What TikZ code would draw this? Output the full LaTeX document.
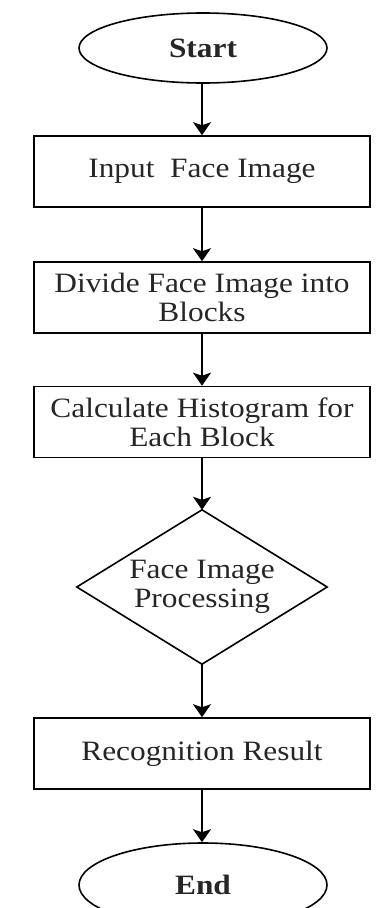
\documentclass[tikz,border=0pt]{standalone}
\usepackage{fontspec}
\setmainfont{Liberation Serif}[FakeStretch=1.12]
\usetikzlibrary{shapes.geometric,arrows.meta}
\begin{document}
\begin{tikzpicture}[x=1pt,y=-1pt,
  every node/.style={font=\fontsize{28}{29}\selectfont, text=black!85, align=center, inner sep=0pt},
  term/.style={ellipse, draw, line width=1.6pt, minimum width=248pt, minimum height=70pt},
  procbox/.style={rectangle, draw, line width=1.6pt, minimum width=336pt, minimum height=71pt},
  decbox/.style={rectangle, minimum width=250pt, minimum height=154pt},
  flow/.style={line width=1.6pt, -{Stealth[width=18pt,length=13pt,inset=3pt]}}
]
\useasboundingbox (0,0) rectangle (378,908);
\clip (0,0) rectangle (378,908);
\fill[white] (0,0) rectangle (378,908);
\node[term] (start) at (203,48) {\bfseries Start};
\node[procbox] (input) at (202,171.5) {Input\ \ Face Image};
\node[procbox] (divide) at (202,297.5) {Divide Face Image into\\Blocks};
\node[procbox] (calc) at (202,422) {Calculate Histogram for\\Each Block};
\node[decbox] (dec) at (202,587) {Face Image\\Processing};
\draw[line width=1.6pt] (dec.north) -- (dec.east) -- (dec.south) -- (dec.west) -- cycle;
\node[procbox] (result) at (202,753.5) {Recognition Result};
\node[term, minimum height=84pt] (end) at (203,885) {\bfseries End};
\draw[flow] (start.south -| input.north) -- (input.north);
\draw[flow] (input.south) -- (divide.north);
\draw[flow] (divide.south) -- (calc.north);
\draw[flow] (calc.south) -- (dec.north);
\draw[flow] (dec.south) -- (result.north);
\draw[flow] (result.south) -- (end.north -| result.south);
\end{tikzpicture}
\end{document}
